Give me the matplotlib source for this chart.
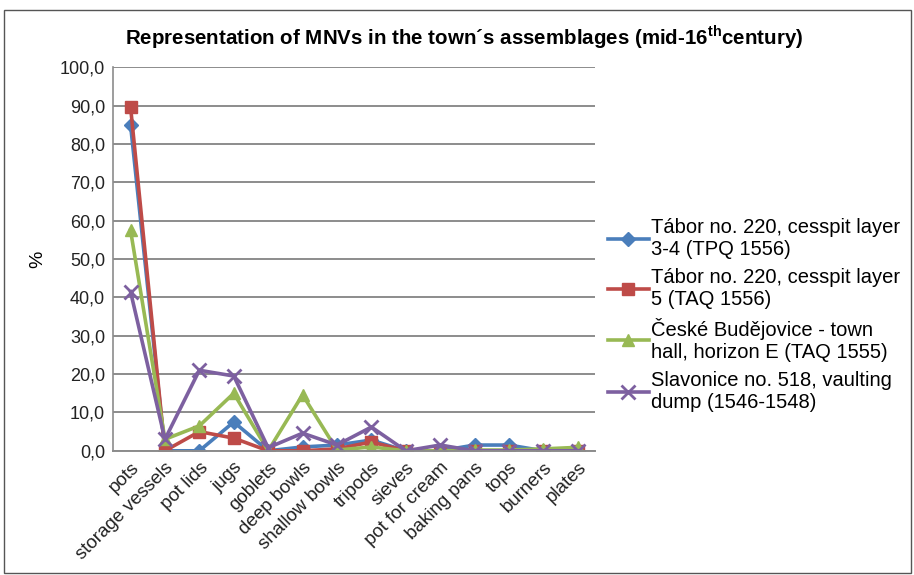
import numpy as np
import matplotlib.pyplot as plt
from matplotlib.patches import Rectangle

# categories and series values (%)
categories = ['pots', 'storage vessels', 'pot lids', 'jugs', 'goblets', 'deep bowls',
              'shallow bowls', 'tripods', 'sieves', 'pot for cream', 'baking pans',
              'tops', 'burners', 'plates']
tabor_34 = [85.0, 0.0, 0.0, 7.5, 0.0, 1.0, 1.5, 2.8, 0.0, 0.0, 1.5, 1.5, 0.0, 0.0]
tabor_5 = [89.7, 0.0, 5.0, 3.3, 0.0, 0.0, 0.5, 2.3, 0.0, 0.0, 0.0, 0.0, 0.0, 0.0]
budejovice = [57.5, 3.0, 6.5, 15.0, 0.0, 14.6, 0.2, 1.0, 0.0, 0.0, 0.2, 0.2, 0.5, 0.9]
slavonice = [41.5, 3.0, 21.0, 19.5, 0.8, 4.6, 1.5, 6.2, 0.0, 1.5, 0.0, 0.0, 0.0, 0.0]

labels = ['Tábor no. 220, cesspit layer\n3-4 (TPQ 1556)',
          'Tábor no. 220, cesspit layer\n5 (TAQ 1556)',
          'České Budějovice - town\nhall, horizon E (TAQ 1555)',
          'Slavonice no. 518, vaulting\ndump (1546-1548)']
yticks = np.arange(0, 101, 10)

plt.rcParams['font.family'] = ['Liberation Sans', 'DejaVu Sans']

fig = plt.figure(figsize=(9.14, 5.75), dpi=100)
fig.patches.append(Rectangle((0.004, 0.004), 0.993, 0.978, transform=fig.transFigure,
                             fill=False, edgecolor='#555555', linewidth=1.0))
ax = fig.add_axes([0.124, 0.216, 0.527, 0.667])

x = np.arange(len(categories))
styles = [
    (tabor_34, '#4a7ebb', 'D', 7),
    (tabor_5, '#be4b48', 's', 9),
    (budejovice, '#98b954', '^', 9),
    (slavonice, '#7d60a0', 'x', 10),
]
for (vals, col, mk, ms), lab in zip(styles, labels):
    ax.plot(x, vals, color=col, marker=mk, markersize=ms, linewidth=2.6,
            markeredgewidth=2 if mk == 'x' else 1, label=lab)

ax.set_xlim(-0.5, len(categories) - 0.5)
ax.set_ylim(0, 100)
ax.set_yticks(yticks)
ax.set_yticklabels([f'{v:.1f}'.replace('.', ',') for v in yticks], fontsize=13, color='#222222')
ax.set_xticks(x)
ax.set_xticklabels(categories, rotation=45, ha='right', rotation_mode='anchor', fontsize=13.5,
                   color='#222222')
ax.tick_params(axis='both', length=0, pad=6)
ax.grid(axis='y', color='#8c8c8c', linewidth=1.4)
ax.set_axisbelow(True)
for s in ['top', 'right']:
    ax.spines[s].set_visible(False)
ax.spines['left'].set_color('#8c8c8c')
ax.spines['bottom'].set_color('#8c8c8c')
ax.spines['left'].set_linewidth(1.2)
ax.spines['bottom'].set_linewidth(1.4)
ax.set_ylabel('%', fontsize=14, labelpad=10)

fig.text(0.508, 0.935, r'Representation of MNVs in the town´s assemblages (mid-16$^{\mathregular{th}}$century)',
         ha='center', va='center', fontsize=14.8, fontweight='bold')

ax.legend(loc='upper left', bbox_to_anchor=(0.99, 0.655), frameon=False, fontsize=14.5,
          handlelength=2.0, handletextpad=0.1, labelspacing=0.45)

fig.savefig('out.png', dpi=100)
